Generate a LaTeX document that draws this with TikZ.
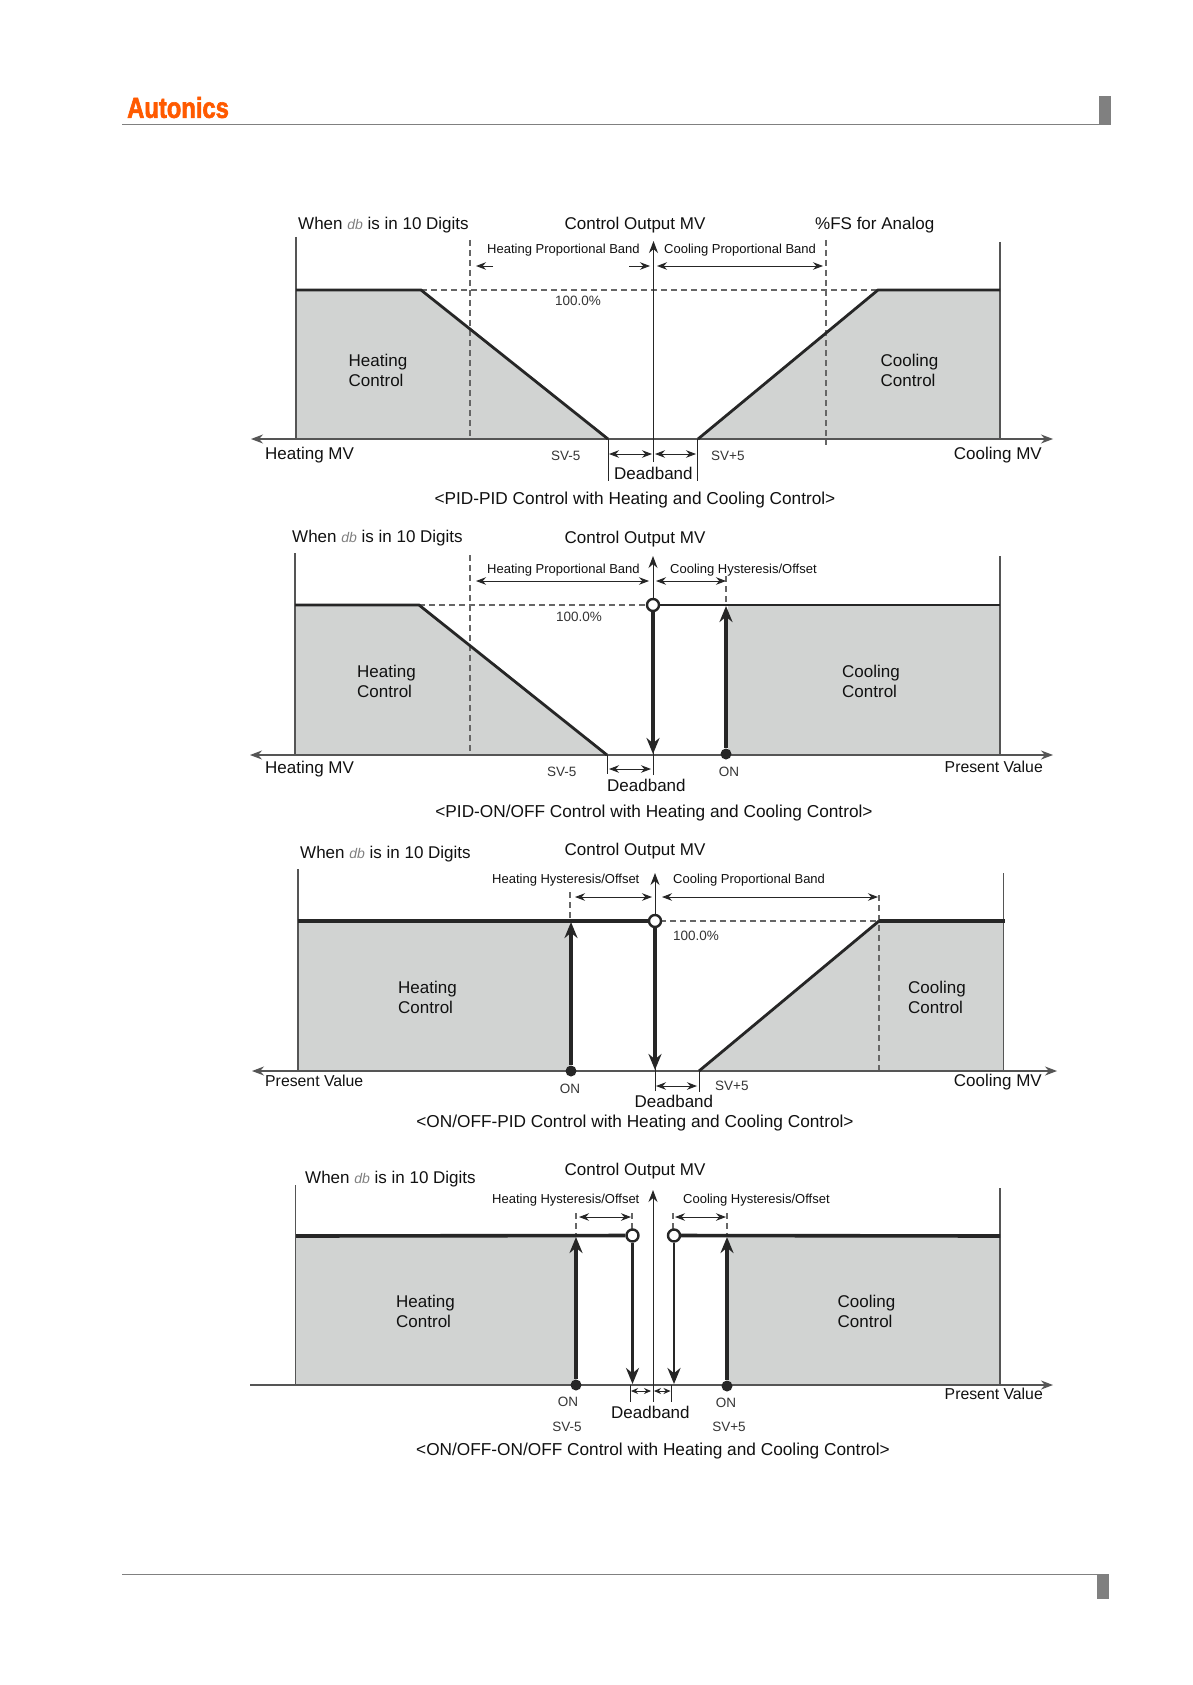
\documentclass[tikz,border=0pt]{standalone}
\usepackage{fontspec}
\setmainfont{Liberation Sans}
\newfontfamily\logofont{Liberation Sans}[BoldFeatures={FakeStretch=0.82,FakeBold=2}]
\usetikzlibrary{arrows.meta,shapes.geometric}
\definecolor{ctrlfill}{HTML}{D1D3D2}
\definecolor{axisgray}{HTML}{555555}
\definecolor{dashgray}{HTML}{666666}
\definecolor{darkln}{HTML}{262626}
\definecolor{inktext}{HTML}{111111}
\definecolor{rulegray}{HTML}{808080}
\definecolor{logoorange}{HTML}{FF5A00}
\newcommand{\dbsym}{\textcolor{gray}{\fontsize{14}{14}\selectfont\itshape db}}
\tikzset{
  x=1pt,y=-1pt,
  big/.style={font=\fontsize{17}{17}\selectfont,text=inktext,inner sep=0pt,text height=12.5pt,text depth=3.5pt},
  pval/.style={font=\fontsize{15.8}{15.8}\selectfont,text=inktext,inner sep=0pt,text height=12.5pt,text depth=3.5pt},
  capt/.style={font=\fontsize{17.25}{17.25}\selectfont,text=inktext,inner sep=0pt,text height=12.5pt,text depth=3.5pt},
  small/.style={font=\fontsize{13}{13}\selectfont,text=inktext,inner sep=0pt,text height=9.5pt,text depth=3pt},
  mid/.style={font=\fontsize{13.5}{13.5}\selectfont,text=inktext!85!white,inner sep=0pt,text height=9.5pt,text depth=3pt},
  ctrlarea/.style={fill=ctrlfill,draw=none},
  frameline/.style={draw=axisgray,line width=1.1pt},
  axisboth/.style={draw=axisgray,line width=1.2pt,{Stealth[length=12pt,width=9pt]}-{Stealth[length=12pt,width=9pt]}},
  axisright/.style={draw=axisgray,line width=1.2pt,-{Stealth[length=12pt,width=9pt]}},
  vaxis/.style={draw=darkln,line width=1pt,-{Stealth[length=12pt,width=9pt]}},
  curve/.style={draw=darkln,line width=2.8pt},
  heavyline/.style={draw=darkln,line width=3.6pt},
  thickup/.style={draw=darkln,line width=3.4pt,-{Stealth[length=16pt,width=13pt]}},
  dashln/.style={draw=dashgray,line width=1.1pt,dash pattern=on 6pt off 4pt},
  dimarrow/.style={draw=darkln,line width=.9pt,{Stealth[length=10pt,width=7.5pt]}-{Stealth[length=10pt,width=7.5pt]}},
  singlearrow/.style={draw=darkln,line width=.9pt,-{Stealth[length=10pt,width=7.5pt]}},
  tickln/.style={draw=darkln,line width=.9pt},
  opendot/.style={circle,draw=darkln,fill=white,line width=2.4pt,minimum size=12pt,inner sep=0pt},
  soliddot/.style={circle,fill=darkln,minimum size=11pt,inner sep=0pt},
}
\begin{document}
\begin{tikzpicture}
\useasboundingbox (0,0) rectangle (1192,1685);
\fill[white] (0,0) rectangle (1192,1685);

% page furniture
\node[anchor=west,inner sep=0pt,text=logoorange,font=\fontsize{29}{29}\logofont\bfseries] (logo) at (127,107.5) {Autonics};
\draw[rulegray,line width=1.2pt] (122,124.5) -- (1100,124.5);
\fill[rulegray] (1099,96) rectangle (1111,125);
\draw[rulegray,line width=1.2pt] (122,1574.5) -- (1098,1574.5);
\fill[rulegray] (1097,1574) rectangle (1109,1599);

% ===== Diagram 1 =====
\fill[ctrlarea] (296,290) -- (421,290) -- (608,439) -- (296,439) -- cycle;
\fill[ctrlarea] (698,439) -- (878,290) -- (1000,290) -- (1000,439) -- cycle;
\draw[frameline] (296,237) -- (296,439);
\draw[frameline] (1000,242) -- (1000,439);
\draw[dashln] (470,240) -- (470,439);
\draw[dashln] (826,240) -- (826,445);
\draw[dashln] (421,290) -- (878,290);
\draw[axisboth] (251,439) -- (1053,439);
\draw[vaxis] (653.5,462) -- (653.5,241);
\draw[curve] (296,290) -- (421,290) -- (608,439);
\draw[curve] (698,439) -- (878,290) -- (1000,290);
\draw[tickln] (608,439) -- (608,481);
\draw[tickln] (697,439) -- (697,481);
\draw[dimarrow] (609,454) -- (652,454);
\draw[dimarrow] (655,454) -- (696,454);
\draw[singlearrow] (493,266) -- (476,266);
\draw[singlearrow] (629,266) -- (650,266);
\draw[dimarrow] (657,266) -- (823,266);
\node[big,anchor=west] (a1) at (298,225) {When \dbsym{} is in 10 Digits};
\node[big] (a2) at (635,225) {Control Output MV};
\node[big,anchor=west] (a3) at (815,225) {\%FS for Analog};
\node[small,anchor=west] (a4) at (487,250) {Heating Proportional Band};
\node[small,anchor=west] (a5) at (664,250) {Cooling Proportional Band};
\node[mid,anchor=west] (a6) at (555,302) {100.0\%};
\node[big,anchor=west] (a7) at (348.5,362) {Heating};
\node[big,anchor=west] (a8) at (348.5,382) {Control};
\node[big,anchor=west] (a9) at (880.5,362) {Cooling};
\node[big,anchor=west] (a10) at (880.5,382) {Control};
\node[big,anchor=west] (a11) at (265,455) {Heating MV};
\node[big,anchor=east] (a12) at (1042,455) {Cooling MV};
\node[mid,anchor=west] (a13) at (551,457) {SV-5};
\node[mid,anchor=west] (a14) at (711,457) {SV+5};
\node[big,anchor=west] (a15) at (614,475) {Deadband};
\node[capt] (a16) at (635,500) {<PID-PID Control with Heating and Cooling Control>};

% ===== Diagram 2 =====
\fill[ctrlarea] (295,605) -- (419,605) -- (607,755) -- (295,755) -- cycle;
\fill[ctrlarea] (728,605) -- (1000,605) -- (1000,755) -- (728,755) -- cycle;
\draw[frameline] (295,553) -- (295,755);
\draw[frameline] (1000,556) -- (1000,755);
\draw[dashln] (470,555) -- (470,755);
\draw[dashln] (726,576) -- (726,605);
\draw[dashln] (419,605) -- (650,605);
\draw[axisboth] (250,755) -- (1053,755);
\draw[vaxis] (653,775) -- (653,556);
\draw[curve] (295,605) -- (419,605) -- (607,755);
\node[opendot] (b1) at (653,605) {};
\node[soliddot] (b2) at (726,754) {};
\draw[curve] (b1) -- (1000,605);
\draw[thickup] (b1) -- (653,754);
\draw[thickup] (b2) -- (726,606);
\draw[tickln] (607,755) -- (607,774);
\draw[dimarrow] (609,769) -- (651,769);
\draw[dimarrow] (476,581) -- (649,581);
\draw[dimarrow] (656,581) -- (726,581);
\node[big,anchor=west] (b3) at (292,538) {When \dbsym{} is in 10 Digits};
\node[big] (b4) at (635,539) {Control Output MV};
\node[small,anchor=west] (b5) at (487,570) {Heating Proportional Band};
\node[small,anchor=west] (b6) at (670,570) {Cooling Hysteresis/Offset};
\node[mid,anchor=west] (b7) at (556,618) {100.0\%};
\node[big,anchor=west] (b8) at (357,673) {Heating};
\node[big,anchor=west] (b9) at (357,693) {Control};
\node[big,anchor=west] (b10) at (842,673) {Cooling};
\node[big,anchor=west] (b11) at (842,693) {Control};
\node[big,anchor=west] (b12) at (265,769) {Heating MV};
\node[pval,anchor=east] (b13) at (1043,768) {Present Value};
\node[mid,anchor=west] (b14) at (547,773) {SV-5};
\node[mid] (b15) at (729,773) {ON};
\node[big,anchor=west] (b16) at (607,787) {Deadband};
\node[capt] (b17) at (654,813) {<PID-ON/OFF Control with Heating and Cooling Control>};

% ===== Diagram 3 =====
\fill[ctrlarea] (298,921) -- (570,921) -- (570,1071) -- (298,1071) -- cycle;
\fill[ctrlarea] (699,1071) -- (879,921) -- (1003,921) -- (1003,1071) -- cycle;
\draw[frameline] (298,869) -- (298,1071);
\draw[frameline,line width=.8pt] (1003,873) -- (1003,1071);
\draw[dashln] (570,892) -- (570,921);
\draw[dashln] (879,895) -- (879,1071);
\draw[dashln] (660,921) -- (879,921);
\draw[axisboth] (252,1071) -- (1057,1071);
\draw[vaxis] (655,1091) -- (655,873);
\node[opendot] (c1) at (655,921) {};
\node[soliddot] (c2) at (571,1071) {};
\draw[heavyline] (298,921) -- (c1);
\draw[curve] (699,1071) -- (879,921);
\draw[heavyline] (879,921) -- (1005,921);
\draw[thickup] (c1) -- (655,1070);
\draw[thickup] (c2) -- (571,922);
\draw[tickln] (699,1071) -- (699,1092);
\draw[dimarrow] (656,1086) -- (697,1086);
\draw[dimarrow] (575,897) -- (652,897);
\draw[dimarrow] (662,897) -- (878,897);
\node[big] (c3) at (635,851) {Control Output MV};
\node[big,anchor=west] (c4) at (300,854) {When \dbsym{} is in 10 Digits};
\node[small,anchor=west] (c5) at (492,880.5) {Heating Hysteresis/Offset};
\node[small,anchor=west] (c6) at (673,880.5) {Cooling Proportional Band};
\node[mid,anchor=west] (c7) at (673,937) {100.0\%};
\node[big,anchor=west] (c8) at (398,989) {Heating};
\node[big,anchor=west] (c9) at (398,1009) {Control};
\node[big,anchor=west] (c10) at (908,989) {Cooling};
\node[big,anchor=west] (c11) at (908,1009) {Control};
\node[pval,anchor=west] (c12) at (265,1082) {Present Value};
\node[big,anchor=east] (c13) at (1042,1082) {Cooling MV};
\node[mid] (c14) at (570,1090) {ON};
\node[mid,anchor=west] (c15) at (715,1087) {SV+5};
\node[big,anchor=west] (c16) at (634.5,1103) {Deadband};
\node[capt] (c17) at (635,1123) {<ON/OFF-PID Control with Heating and Cooling Control>};

% ===== Diagram 4 =====
\fill[ctrlarea] (296,1236) rectangle (576,1385);
\fill[ctrlarea] (728,1236) rectangle (1000,1385);
\draw[frameline] (295.5,1185) -- (295.5,1385);
\draw[frameline] (1000,1188) -- (1000,1385);
\draw[axisright] (250,1385) -- (1053,1385);
\draw[vaxis] (653,1402) -- (653,1190);
\draw[dashln] (576,1213) -- (576,1236);
\draw[dashln] (632,1213) -- (632,1236);
\draw[dashln] (673,1213) -- (673,1236);
\draw[dashln] (727,1213) -- (727,1236);
\node[opendot] (e1) at (632.5,1235.5) {};
\node[opendot] (e2) at (674,1235.5) {};
\node[soliddot] (e3) at (576,1385) {};
\node[soliddot] (e4) at (727,1386) {};
\draw[heavyline] (296,1236) -- (e1);
\draw[heavyline] (e2) -- (1000,1236);
\draw[thickup] (e1) -- (632.5,1384);
\draw[thickup,line width=2.8pt] (e2) -- (674,1384);
\draw[thickup] (e3) -- (576,1237);
\draw[thickup] (e4) -- (727,1237);
\draw[tickln] (630,1385) -- (630,1402);
\draw[tickln] (671.5,1385) -- (671.5,1402);
\draw[dimarrow,{Stealth[length=7pt,width=6pt]}-{Stealth[length=7pt,width=6pt]}] (631,1391) -- (651,1391);
\draw[dimarrow,{Stealth[length=7pt,width=6pt]}-{Stealth[length=7pt,width=6pt]}] (654,1391) -- (670.5,1391);
\draw[dimarrow] (579,1217) -- (631,1217);
\draw[dimarrow] (675,1217) -- (726,1217);
\node[big] (e5) at (635,1170.5) {Control Output MV};
\node[big,anchor=west] (e6) at (305,1179) {When \dbsym{} is in 10 Digits};
\node[small,anchor=west] (e7) at (492,1200.5) {Heating Hysteresis/Offset};
\node[small,anchor=west] (e8) at (683,1200.5) {Cooling Hysteresis/Offset};
\node[big,anchor=west] (e9) at (396,1303) {Heating};
\node[big,anchor=west] (e10) at (396,1323) {Control};
\node[big,anchor=west] (e11) at (837.5,1303) {Cooling};
\node[big,anchor=west] (e12) at (837.5,1323) {Control};
\node[pval,anchor=east] (e13) at (1043,1395) {Present Value};
\node[mid] (e14) at (568,1403) {ON};
\node[mid] (e15) at (726,1404) {ON};
\node[mid] (e16) at (567,1428.5) {SV-5};
\node[mid] (e17) at (729,1428.5) {SV+5};
\node[big,anchor=west] (e18) at (611,1414) {Deadband};
\node[capt] (e19) at (653,1451) {<ON/OFF-ON/OFF Control with Heating and Cooling Control>};
\end{tikzpicture}
\end{document}
